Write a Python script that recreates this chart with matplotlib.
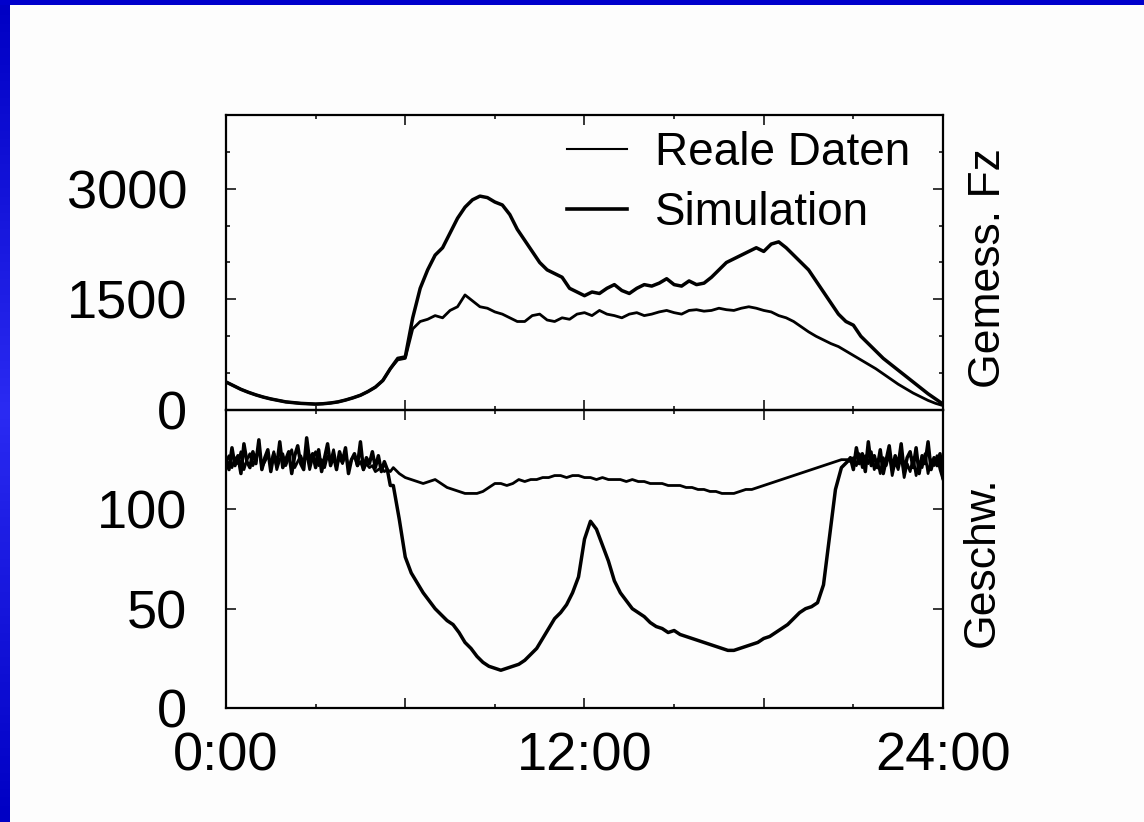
import numpy as np
import matplotlib
matplotlib.use("Agg")
import matplotlib.pyplot as plt
from matplotlib.ticker import MultipleLocator, FixedLocator

plt.rcParams['font.family'] = ['Liberation Sans', 'DejaVu Sans']

# ---------------- data ----------------
# vehicle counts, sampled every 15 min from 0:00 to 24:00
count_sim = [380, 330, 280, 240, 205, 175, 150, 130, 110, 100, 90, 85, 80, 85, 95, 110,
             135, 165, 200, 250, 310, 400, 560, 700, 720, 1250, 1650, 1900, 2100, 2200,
             2400, 2600, 2750, 2850, 2900, 2880, 2820, 2780, 2650, 2450, 2300, 2150, 2000,
             1900, 1850, 1800, 1650, 1600, 1550, 1600, 1580, 1650, 1700, 1620, 1580, 1650,
             1700, 1680, 1720, 1780, 1700, 1680, 1750, 1700, 1720, 1800, 1900, 2000, 2050,
             2100, 2150, 2200, 2150, 2250, 2280, 2200, 2100, 2000, 1900, 1750, 1600, 1450,
             1300, 1200, 1150, 1000, 900, 800, 700, 620, 540, 460, 380, 300, 220, 150, 80]
count_real = [380, 330, 280, 240, 205, 175, 150, 130, 110, 100, 90, 85, 80, 85, 95, 110,
              135, 165, 200, 250, 310, 400, 560, 680, 700, 1100, 1200, 1230, 1280, 1250,
              1350, 1400, 1560, 1480, 1400, 1380, 1330, 1300, 1250, 1200, 1200, 1280, 1300,
              1220, 1200, 1250, 1230, 1300, 1320, 1280, 1350, 1300, 1280, 1250, 1300, 1320,
              1280, 1300, 1330, 1350, 1320, 1300, 1350, 1360, 1340, 1350, 1380, 1360, 1350,
              1380, 1400, 1380, 1350, 1330, 1280, 1250, 1200, 1130, 1060, 1000, 950, 900,
              860, 800, 740, 680, 620, 560, 490, 420, 350, 290, 230, 180, 130, 90, 60]

# speeds: night (0:00-5:30), day (5:36-20:48), evening (20:54-24:00)
speed_sim_night = [125, 120, 131, 122, 127, 118, 133, 124, 121, 129, 123, 135, 120, 126,
                   130, 119, 128, 122, 134, 121, 125, 129, 118, 127, 132, 123, 120, 136,
                   124, 128, 121, 130, 119, 126, 133, 122, 127, 120, 129, 124, 131, 118,
                   125, 128, 122, 134, 120, 126, 123, 129, 121, 127, 119, 124, 120, 112]
speed_real_night = [124, 127, 121, 126, 123, 129, 120, 125, 128, 122, 126, 131, 121, 124,
                    127, 123, 129, 120, 125, 128, 122, 126, 130, 121, 124, 127, 123, 128,
                    120, 126, 129, 122, 125, 121, 127, 124, 130, 122, 126, 123, 128, 121,
                    125, 127, 122, 124, 120, 123, 121, 122, 119, 120, 121, 119, 120, 119]
speed_sim_day = [112, 95, 76, 68, 63, 58, 54, 50, 47, 44, 42, 38, 33, 30, 26, 23, 21, 20,
                 19, 20, 21, 22, 24, 27, 30, 35, 40, 45, 48, 52, 58, 66, 85, 94, 90, 82,
                 74, 64, 58, 54, 50, 48, 46, 43, 41, 40, 38, 39, 37, 36, 35, 34, 33, 32,
                 31, 30, 29, 29, 30, 31, 32, 33, 35, 36, 38, 40, 42, 45, 48, 50, 51, 53,
                 62, 86, 110, 121, 124]
speed_real_day = [121, 118, 116, 115, 114, 113, 114, 115, 113, 111, 110, 109, 108, 108,
                  108, 109, 111, 113, 113, 112, 113, 115, 114, 115, 115, 116, 116, 117,
                  117, 116, 117, 117, 116, 116, 115, 116, 115, 115, 115, 114, 115, 114,
                  114, 113, 113, 113, 112, 112, 112, 111, 111, 110, 110, 109, 109, 108,
                  108, 108, 109, 110, 110, 111, 112, 113, 114, 115, 116, 117, 118, 119,
                  120, 121, 122, 123, 124, 125, 125]
speed_sim_evening = [126, 120, 131, 123, 128, 119, 134, 122, 127, 121, 130, 118, 125, 132,
                     120, 127, 122, 133, 119, 126, 129, 121, 131, 118, 127, 123, 134, 120,
                     126, 122, 128, 116]
speed_real_evening = [124, 126, 122, 128, 121, 127, 123, 129, 120, 125, 118, 126, 122, 128,
                      117, 124, 120, 127, 116, 123, 119, 126, 117, 124, 121, 128, 118, 125,
                      122, 127, 120, 115]

x_tick_labels = ['0:00', '', '12:00', '', '24:00']
legend_labels = ['Reale Daten', 'Simulation']
ylabel_top = 'Gemess. Fz'
ylabel_bottom = 'Geschw.'

# ---------------- figure ----------------
W, H = 1144, 822
fig = plt.figure(figsize=(W / 100, H / 100), dpi=100)
fig.patch.set_facecolor('#fdfdfd')

# blue frame (top and left)
grad = np.concatenate([np.linspace(0, 1, 50), np.linspace(1, 0, 50)])[:, None]
axl = fig.add_axes([0, 0, 10 / W, 1])
axl.imshow(grad, aspect='auto', cmap=matplotlib.colors.LinearSegmentedColormap.from_list(
    'b', ['#0000c4', '#2a2af2']), extent=[0, 1, 0, 1])
axl.set_axis_off()
axt = fig.add_axes([0, 1 - 5 / H, 1, 5 / H])
axt.set_facecolor('#0000cc')
axt.set_xticks([]); axt.set_yticks([])
for s in axt.spines.values():
    s.set_visible(False)

left, right = 226 / W, 943 / W
top_y, mid_y, bot_y = 115, 410, 708
ax1 = fig.add_axes([left, 1 - mid_y / H, right - left, (mid_y - top_y) / H])
ax2 = fig.add_axes([left, 1 - bot_y / H, right - left, (bot_y - mid_y) / H])

t_count = np.linspace(0, 24, len(count_sim))
ax1.plot(t_count, count_real, color='black', lw=2.0, label=legend_labels[0])
ax1.plot(t_count, count_sim, color='black', lw=2.5, label=legend_labels[1])

t_night = np.linspace(0, 5.5, len(speed_sim_night))
t_day = np.linspace(5.6, 20.8, len(speed_sim_day))
t_even = np.linspace(20.9, 24.0, len(speed_sim_evening))
t_speed = np.concatenate([t_night, t_day, t_even])
speed_sim = np.concatenate([speed_sim_night, speed_sim_day, speed_sim_evening])
speed_real = np.concatenate([speed_real_night, speed_real_day, speed_real_evening])
ax2.plot(t_speed, speed_real, color='black', lw=2.0)
ax2.plot(t_speed, speed_sim, color='black', lw=2.5)

for ax in (ax1, ax2):
    ax.set_facecolor('none')
    ax.set_xlim(0, 24)
    ax.xaxis.set_major_locator(MultipleLocator(6))
    ax.xaxis.set_minor_locator(MultipleLocator(3))
    ax.tick_params(which='both', direction='in', top=True, right=True, width=1.1,
                   labelsize=39, colors='black')
    ax.tick_params(which='major', length=7)
    ax.tick_params(which='minor', length=3)
    ax.tick_params(axis='y', pad=28)
    ax.tick_params(axis='x', pad=17)
    for s in ax.spines.values():
        s.set_linewidth(1.6)

ax1.set_ylim(0, 4000)
ax1.yaxis.set_major_locator(FixedLocator([0, 1500, 3000]))
ax1.yaxis.set_minor_locator(MultipleLocator(500))
ax1.set_yticklabels(['0', '1500', '3000'])
ax1.tick_params(axis='x', labelbottom=False)

ax2.set_ylim(0, 150)
ax2.yaxis.set_major_locator(FixedLocator([0, 50, 100]))
ax2.set_yticklabels(['0', '50', '100'])
ax2.set_xticks([0, 6, 12, 18, 24])
ax2.set_xticklabels(x_tick_labels)

leg = ax1.legend(loc='upper right', frameon=False, fontsize=33, handlelength=1.3,
                 handletextpad=0.6, labelspacing=0.36, borderaxespad=0.2,
                 bbox_to_anchor=(0.992, 1.04))
leg.get_lines()[0].set_linewidth(1.5)
leg.get_lines()[1].set_linewidth(2.6)

fig.text(989 / W, 1 - 268 / H, ylabel_top, rotation=90, fontsize=32,
         ha='center', va='center')
fig.text(982 / W, 1 - 562 / H, ylabel_bottom, rotation=90, fontsize=32,
         ha='center', va='center')

fig.savefig('out.png', dpi=100, facecolor=fig.get_facecolor())
